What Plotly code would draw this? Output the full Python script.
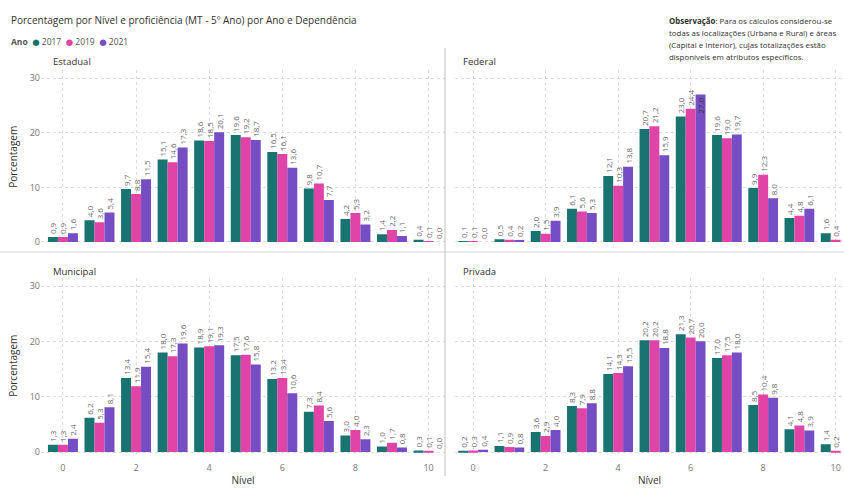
import plotly.graph_objects as go

niveis = list(range(11))
anos = ["2017", "2019", "2021"]
cores = ["#197371", "#E044A7", "#744EC2"]
tick_vals_x = [0, 2, 4, 6, 8, 10]
tick_vals_y = [0, 10, 20, 30]

estadual_2017 = [0.9, 4.0, 9.7, 15.1, 18.6, 19.6, 16.5, 9.8, 4.2, 1.4, 0.4]
estadual_2019 = [0.9, 3.6, 8.8, 14.6, 18.5, 19.2, 16.1, 10.7, 5.3, 2.2, 0.1]
estadual_2021 = [1.6, 5.4, 11.5, 17.3, 20.1, 18.7, 13.6, 7.7, 3.2, 1.1, 0.0]

federal_2017 = [0.1, 0.5, 2.0, 6.1, 12.1, 20.7, 23.0, 19.6, 9.9, 4.4, 1.6]
federal_2019 = [0.1, 0.4, 1.5, 5.6, 10.3, 21.2, 24.4, 19.0, 12.3, 4.8, 0.4]
federal_2021 = [0.0, 0.2, 3.9, 5.3, 13.8, 15.9, 27.0, 19.7, 8.0, 6.1, 0.0]

municipal_2017 = [1.3, 6.2, 13.4, 18.0, 18.9, 17.5, 13.2, 7.3, 3.0, 1.0, 0.3]
municipal_2019 = [1.3, 5.3, 11.9, 17.3, 19.1, 17.6, 13.4, 8.4, 4.0, 1.7, 0.1]
municipal_2021 = [2.4, 8.1, 15.4, 19.6, 19.3, 15.8, 10.6, 5.6, 2.3, 0.8, 0.0]

privada_2017 = [0.2, 1.1, 3.6, 8.3, 14.1, 20.2, 21.3, 17.0, 8.5, 4.1, 1.4]
privada_2019 = [0.3, 0.9, 2.9, 7.9, 14.3, 20.2, 20.7, 17.5, 10.4, 4.8, 0.2]
privada_2021 = [0.4, 0.8, 4.0, 8.8, 15.5, 18.8, 20.0, 18.0, 9.8, 3.9, 0.0]

panels = [
    ("Estadual", [estadual_2017, estadual_2019, estadual_2021], "x", "y"),
    ("Federal", [federal_2017, federal_2019, federal_2021], "x2", "y2"),
    ("Municipal", [municipal_2017, municipal_2019, municipal_2021], "x3", "y3"),
    ("Privada", [privada_2017, privada_2019, privada_2021], "x4", "y4"),
]

FONT = "Open Sans, DejaVu Sans, sans-serif"
W, H = 844, 489
Y_TOP = 31.5

fig = go.Figure()
for name, series, xa, ya in panels:
    for ano, vals, cor in zip(anos, series, cores):
        pos = ["inside" if v > 25 else "outside" for v in vals]
        fig.add_trace(go.Bar(
            x=niveis, y=vals, xaxis=xa, yaxis=ya, name=ano,
            marker=dict(color=cor, line=dict(width=0)),
            texttemplate="%{y:.1f}", textposition=pos, textangle=-90,
            insidetextanchor="end",
            constraintext="none", cliponaxis=False,
            textfont=dict(size=8, color="#666666", family=FONT),
            insidetextfont=dict(size=8, color="#333333", family=FONT),
            showlegend=False, hoverinfo="x+y",
        ))

def px_x(p):
    return p / W

def px_y(p):
    return 1 - p / H

left_dom = [px_x(41), px_x(445)]
right_dom = [px_x(455), 1.0]
top_dom = [px_y(243.6), px_y(70)]
bot_dom = [px_y(453.7), px_y(277.7)]

xcommon = dict(tickmode="array", tickvals=tick_vals_x, showgrid=True,
               gridcolor="#dcdcdc", griddash="dot", gridwidth=1,
               zeroline=False, showline=False, ticks="outside", ticklen=5,
               tickcolor="rgba(0,0,0,0)", automargin=False,
               ticklabeloverflow="allow",
               tickfont=dict(size=9, color="#777777", family=FONT))
ycommon = dict(range=[-0.3, Y_TOP], tickmode="array", tickvals=tick_vals_y,
               showgrid=True, gridcolor="#dcdcdc", griddash="dot", gridwidth=1,
               zeroline=False, showline=False, ticks="", automargin=False,
               tickfont=dict(size=9, color="#777777", family=FONT))

ytitle = dict(text="Porcentagem", font=dict(size=10, color="#333333", family=FONT), standoff=10)
xtitle = dict(text="Nível", font=dict(size=10, color="#333333", family=FONT), standoff=4)

fig.update_layout(
    width=W, height=H,
    margin=dict(l=0, r=0, t=0, b=0, autoexpand=False),
    paper_bgcolor="white", plot_bgcolor="white",
    separators=",.",
    barmode="group", bargap=0.18, bargroupgap=0,
    font=dict(family=FONT, color="#333333"),
    showlegend=False,
    xaxis=dict(domain=left_dom, anchor="y", range=[-0.6, 10.45], showticklabels=False, **xcommon),
    xaxis2=dict(domain=right_dom, anchor="y2", range=[-0.5, 10.23], showticklabels=False, **xcommon),
    xaxis3=dict(domain=left_dom, anchor="y3", range=[-0.6, 10.45], showticklabels=True,
                title=xtitle, **xcommon),
    xaxis4=dict(domain=right_dom, anchor="y4", range=[-0.5, 10.23], showticklabels=True,
                title=xtitle, **xcommon),
    yaxis=dict(domain=top_dom, anchor="x", showticklabels=True, title=ytitle, **ycommon),
    yaxis2=dict(domain=top_dom, anchor="x2", showticklabels=False, **ycommon),
    yaxis3=dict(domain=bot_dom, anchor="x3", showticklabels=True, title=ytitle, **ycommon),
    yaxis4=dict(domain=bot_dom, anchor="x4", showticklabels=False, **ycommon),
)

legend_text = "<b>Ano</b>  " + "  ".join(
    f"<span style='color:{c}'>●</span> {a}" for a, c in zip(anos, cores))

obs_lines = [
    "<b>Observação</b>: Para os cálculos considerou-se",
    "todas as localizações (Urbana e Rural) e áreas",
    "(Capital e Interior), cujas totalizações estão",
    "disponíveis em atributos específicos.",
]

annotations = [
    dict(text="Porcentagem por Nível e proficiência (MT - 5º Ano) por Ano e Dependência",
         x=px_x(9), y=px_y(20), xanchor="left", yanchor="middle",
         font=dict(size=10, color="#333333")),
    dict(text=legend_text, x=px_x(9), y=px_y(41), xanchor="left", yanchor="middle",
         font=dict(size=8.5, color="#555555")),
    dict(text="Estadual", x=px_x(51), y=px_y(62), xanchor="left", yanchor="middle",
         font=dict(size=9.5, color="#333333")),
    dict(text="Federal", x=px_x(461), y=px_y(62), xanchor="left", yanchor="middle",
         font=dict(size=9.5, color="#333333")),
    dict(text="Municipal", x=px_x(51), y=px_y(271), xanchor="left", yanchor="middle",
         font=dict(size=9.5, color="#333333")),
    dict(text="Privada", x=px_x(461), y=px_y(271), xanchor="left", yanchor="middle",
         font=dict(size=9.5, color="#333333")),
]
for i, line in enumerate(obs_lines):
    annotations.append(dict(text=line, x=px_x(667), y=px_y(21 + 12 * i),
                            xanchor="left", yanchor="middle",
                            font=dict(size=7.9, color="#333333")))
for a in annotations:
    a.update(xref="paper", yref="paper", showarrow=False)
fig.update_layout(annotations=annotations)

fig.update_layout(shapes=[
    dict(type="line", xref="paper", yref="paper", x0=px_x(445), x1=px_x(445),
         y0=px_y(48), y1=px_y(476), line=dict(color="#bdbdbd", width=1)),
    dict(type="line", xref="paper", yref="paper", x0=px_x(0), x1=1.0,
         y0=px_y(252), y1=px_y(252), line=dict(color="#d0d0d0", width=1)),
])

fig.write_html("out.html",
               config={"displayModeBar": False},
               post_script="document.body.style.margin='0';document.body.style.overflow='hidden';")
